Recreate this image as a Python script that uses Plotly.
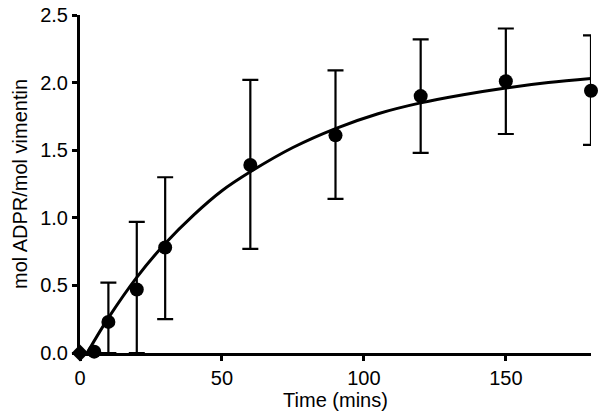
import plotly.graph_objects as go

time_pts = [10, 20, 30, 60, 90, 120, 150, 180]
adpr_mean = [0.23, 0.47, 0.78, 1.39, 1.61, 1.90, 2.01, 1.94]
err_upper_end = [0.52, 0.97, 1.30, 2.02, 2.09, 2.32, 2.40, 2.35]
err_lower_end = [0.00, 0.00, 0.25, 0.77, 1.14, 1.48, 1.62, 1.54]

# Early points with no visible error bars
early_time = [5]
early_val = [0.01]

# Zero point (diamond)
zero_time = [0]
zero_val = [0.0]

# Fitted curve
fit_time = [2.5, 10, 20, 30, 40, 50, 60, 75, 90, 105, 120, 135, 150, 165, 180]
fit_val = [0.0, 0.26, 0.56, 0.81, 1.02, 1.20, 1.34, 1.52, 1.66, 1.77, 1.85, 1.91, 1.96, 2.00, 2.03]

x_ticks = [0, 50, 100, 150]
y_ticks = [0.0, 0.5, 1.0, 1.5, 2.0, 2.5]
y_tick_text = ["0.0", "0.5", "1.0", "1.5", "2.0", "2.5"]

err_plus = [u - m for u, m in zip(err_upper_end, adpr_mean)]
err_minus = [m - l for m, l in zip(adpr_mean, err_lower_end)]

FONT = "Liberation Sans, Arial, Helvetica, sans-serif"

fig = go.Figure()

fig.add_trace(go.Scatter(
    x=fit_time, y=fit_val, mode="lines",
    line=dict(color="black", width=3, shape="spline", smoothing=1.0),
    hoverinfo="skip", cliponaxis=False, showlegend=False,
))

fig.add_trace(go.Scatter(
    x=time_pts, y=adpr_mean, mode="markers",
    marker=dict(color="black", size=14, symbol="circle"),
    error_y=dict(type="data", symmetric=False, array=err_plus, arrayminus=err_minus,
                 color="black", thickness=2.2, width=8),
    cliponaxis=False, showlegend=False,
))

fig.add_trace(go.Scatter(
    x=early_time, y=early_val, mode="markers",
    marker=dict(color="black", size=14, symbol="circle"),
    cliponaxis=False, showlegend=False,
))

fig.add_trace(go.Scatter(
    x=zero_time, y=zero_val, mode="markers",
    marker=dict(color="black", size=13, symbol="diamond"),
    cliponaxis=False, showlegend=False,
))

fig.update_layout(
    width=600, height=414,
    margin=dict(l=80, r=9, t=15, b=61),
    paper_bgcolor="white", plot_bgcolor="white",
    font=dict(family=FONT, size=20, color="black"),
    xaxis=dict(
        range=[0, 180], tickvals=x_ticks, ticktext=[str(v) for v in x_ticks],
        showgrid=False, zeroline=False, automargin=False,
        showline=True, linecolor="black", linewidth=3,
        ticks="outside", ticklen=5, tickwidth=3, tickcolor="black",
        tickfont=dict(size=20),
        title=dict(text="Time (mins)", font=dict(size=20), standoff=4),
    ),
    yaxis=dict(
        range=[0, 2.5], tickvals=y_ticks, ticktext=y_tick_text,
        showgrid=False, zeroline=False, automargin=False,
        showline=True, linecolor="black", linewidth=3,
        ticks="outside", ticklen=5, tickwidth=3, tickcolor="black",
        tickfont=dict(size=20),
        title=dict(text="mol ADPR/mol vimentin", font=dict(size=20), standoff=8),
    ),
)

fig.write_html(
    "out.html",
    config={"displayModeBar": False},
    post_script="document.body.style.margin='0';document.body.style.overflow='hidden';",
)
